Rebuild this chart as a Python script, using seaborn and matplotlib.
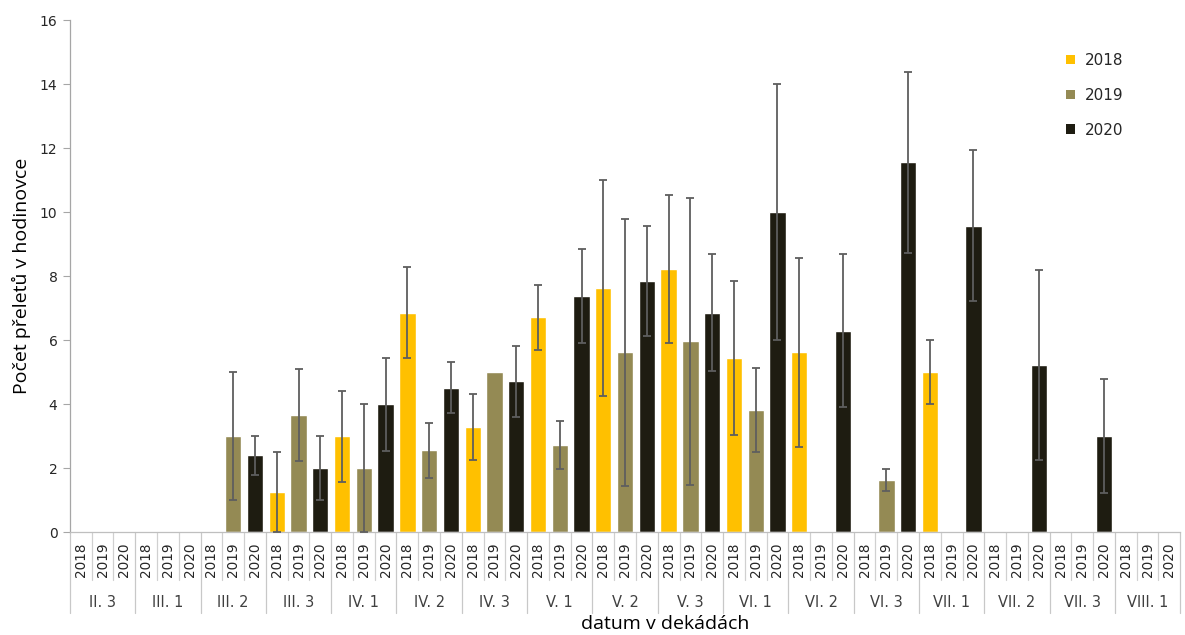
import numpy as np
import pandas as pd
import matplotlib
matplotlib.use("Agg")
import matplotlib.pyplot as plt
import matplotlib.transforms as mtransforms
from matplotlib.patches import Patch
import seaborn as sns

# Decades (month in Roman numerals, decade of month) and seasons
decades = ["II. 3", "III. 1", "III. 2", "III. 3", "IV. 1", "IV. 2", "IV. 3",
           "V. 1", "V. 2", "V. 3", "VI. 1", "VI. 2", "VI. 3", "VII. 1",
           "VII. 2", "VII. 3", "VIII. 1"]
years = ["2018", "2019", "2020"]

# Mean number of passes per hour (None = no observation)
mean_2018 = [None, None, None, 1.25, 3.0, 6.86, 3.28, 6.72, 7.63, 8.22,
             5.44, 5.62, None, 5.0, None, None, None]
mean_2019 = [None, None, 3.0, 3.67, 2.0, 2.56, 5.0, 2.72, 5.62, 5.96,
             3.81, None, 1.63, None, None, None, None]
mean_2020 = [None, None, 2.4, 2.0, 4.0, 4.52, 4.71, 7.39, 7.85, 6.86,
             10.0, 6.3, 11.56, 9.58, 5.22, 3.0, None]

# Error bar half-widths
err_2018 = [None, None, None, 1.25, 1.42, 1.43, 1.04, 1.02, 3.38, 2.32,
            2.41, 2.96, None, 1.0, None, None, None]
err_2019 = [None, None, 2.0, 1.44, 2.0, 0.86, 0.0, 0.74, 4.17, 4.5,
            1.31, None, 0.33, None, None, None, None]
err_2020 = [None, None, 0.62, 1.0, 1.45, 0.8, 1.12, 1.47, 1.71, 1.82,
            4.0, 2.39, 2.82, 2.37, 2.97, 1.78, None]

palette = {"2018": "#FFC000", "2019": "#948A54", "2020": "#1E1C11"}

means = {"2018": mean_2018, "2019": mean_2019, "2020": mean_2020}
errs = {"2018": err_2018, "2019": err_2019, "2020": err_2020}

slots = [f"{d}|{y}" for d in decades for y in years]
rows = []
for i, d in enumerate(decades):
    for y in years:
        v = means[y][i]
        if v is not None:
            rows.append({"slot": f"{d}|{y}", "year": y, "value": v,
                         "err": errs[y][i]})
df = pd.DataFrame(rows)

sns.set_theme(style="white")
plt.rcParams["font.family"] = ["DejaVu Sans"]
title_font = ["Open Sans", "DejaVu Sans"]

fig = plt.figure(figsize=(11.85, 6.35), dpi=100)
ax = fig.add_axes([0.059, 0.162, 0.937, 0.806])

sns.barplot(data=df, x="slot", y="value", hue="year", order=slots,
            hue_order=years, palette=palette, dodge=False, width=0.75,
            errorbar=None, saturation=1, legend=False, ax=ax)

pos = [slots.index(s) for s in df["slot"]]
has_err = df["err"] > 0
ax.errorbar(np.array(pos)[has_err], df["value"][has_err], yerr=df["err"][has_err],
            fmt="none", ecolor="#5E5E5E", elinewidth=1.3, capsize=3.2,
            capthick=1.3, zorder=5)

ax.set_xlim(-0.5, len(slots) - 0.5)
ax.set_ylim(0, 16)
ax.set_yticks(np.arange(0, 17, 2))
ax.tick_params(axis="y", which="both", left=True, length=5, width=0.8,
               color="#A6A6A6", labelsize=10, labelcolor="#262626", pad=4)
ax.set_xticks([])
ax.set_xlabel("")
ax.set_ylabel("Počet přeletů v hodinovce", fontsize=14, family=title_font,
              color="black", labelpad=6)

for side in ["top", "right"]:
    ax.spines[side].set_visible(False)
ax.spines["left"].set_color("#A6A6A6")
ax.spines["bottom"].set_color("#BFBFBF")
ax.spines["left"].set_linewidth(0.9)
ax.spines["bottom"].set_linewidth(0.9)

# Two-level category axis: years and decades
trans = mtransforms.blended_transform_factory(ax.transData, ax.transAxes)
for k, s in enumerate(slots):
    d, y = s.split("|")
    ax.text(k, -0.054, y, rotation=90, ha="center", va="center", fontsize=9.8,
            color="#262626", transform=trans, clip_on=False)
    if k % 3 != 0:
        ax.plot([k - 0.5, k - 0.5], [0, -0.094], color="#D0D0D0", lw=0.9,
                transform=trans, clip_on=False)
for i, d in enumerate(decades):
    c = 3 * i + 1
    ax.text(c, -0.137, d, ha="center", va="center", fontsize=10.5,
            color="#404040", transform=trans, clip_on=False)
for i in range(len(decades) + 1):
    x = 3 * i - 0.5
    ax.plot([x, x], [0, -0.158], color="#C8C8C8", lw=0.9,
            transform=trans, clip_on=False)

fig.text(0.561, 0.018, "datum v dekádách", ha="center", va="center",
         fontsize=14, family=title_font, color="black")

handles = [Patch(facecolor=palette[y], edgecolor="none", label=y) for y in years]
leg = ax.legend(handles=handles, loc="upper left", bbox_to_anchor=(0.885, 0.963),
                frameon=False, fontsize=11, handlelength=0.6, handleheight=0.6,
                handletextpad=0.6, labelspacing=1.3)
for t in leg.get_texts():
    t.set_color("#262626")

fig.savefig("out.png", dpi=100, facecolor="white")
